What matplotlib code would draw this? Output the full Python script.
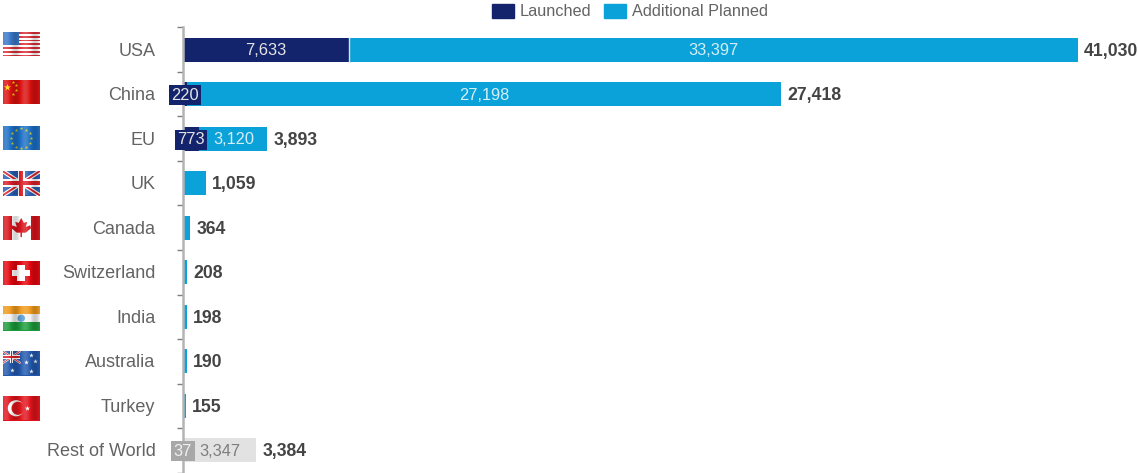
import numpy as np
import matplotlib
matplotlib.use("Agg")
import matplotlib.pyplot as plt
from matplotlib.patches import Rectangle, Polygon, Ellipse

plt.rcParams['font.family'] = ['Liberation Sans', 'DejaVu Sans']

countries = ["USA", "China", "EU", "UK", "Canada", "Switzerland", "India", "Australia", "Turkey", "Rest of World"]
launched = [7633, 220, 773, 0, 0, 0, 0, 0, 0, 37]
additional = [33397, 27198, 3120, 1059, 364, 208, 198, 190, 155, 3347]

NAVY, BLUE = "#14246c", "#0aa2d8"
GREY_D, GREY_L = "#a8a8a8", "#e2e2e2"
TXT, TXT_B = "#636363", "#444444"
W, H = 1138, 473

fig = plt.figure(figsize=(W / 100, H / 100), dpi=100, facecolor="white")
x0, top, bot = 182.5, 27.5, 472.5
ax = fig.add_axes([x0 / W, 1 - bot / H, 1 - x0 / W, (bot - top) / H])
px_per_unit = 895.5 / 41030
ax.set_xlim(0, (W - x0) / px_per_unit)
y = np.arange(len(countries))
ax.set_ylim(len(countries) - 0.5, -0.5)

is_row = [c == "Rest of World" for c in countries]
col_l = [GREY_D if r else NAVY for r in is_row]
col_a = [GREY_L if r else BLUE for r in is_row]
h = 0.54
ax.barh(y, launched, height=h, color=col_l, zorder=2)
ax.barh(y, additional, left=launched, height=h, color=col_a, zorder=2)
ax.plot([launched[0], launched[0]], [-h / 2, h / 2], color="#d8e6f0", lw=1, zorder=3)

for i, (l, a) in enumerate(zip(launched, additional)):
    total = l + a
    ax.annotate(f"{total:,}", (total, i), xytext=(4.4, -1.2), textcoords="offset points",
                va="center", ha="left", fontsize=12.7, fontweight="bold", color=TXT_B,
                annotation_clip=False, zorder=5)
    if l > 0:
        big = l > 2000
        bg = col_l[i]
        kw = {} if big else {"bbox": dict(boxstyle="square,pad=0.15", fc=bg, ec=bg, lw=0)}
        ax.annotate(f"{l:,}", (l / 2, i), xytext=(0, -0.8), textcoords="offset points",
                    ha="center", va="center", fontsize=11.8,
                    color="#e4e4e4" if not is_row[i] else "#f0f0f0",
                    annotation_clip=False, zorder=6, **kw)
        ax.annotate(f"{a:,}", (l + a / 2, i), xytext=(0, -0.8), textcoords="offset points",
                    ha="center", va="center", fontsize=11.8,
                    color="#7d7d7d" if is_row[i] else "#d5eef8",
                    annotation_clip=False, zorder=5)

for s in ["top", "right", "bottom"]:
    ax.spines[s].set_visible(False)
ax.spines["left"].set_color("#b4b4b4")
ax.spines["left"].set_linewidth(1.8)
ax.spines["left"].set_zorder(4)
ax.set_xticks([])
ax.set_yticks(np.append(y - 0.5, y[-1] + 0.5))
ax.set_yticklabels([])
ax.tick_params(axis="y", length=4.5, width=1, color="#7f7f7f", pad=0)
ax.patch.set_alpha(0)

for i, c in enumerate(countries):
    ax.annotate(c, (0, i), xytext=(-19.5, -1.2), textcoords="offset points", ha="right",
                va="center", fontsize=13, color=TXT, annotation_clip=False)

# legend
lax_h = [Rectangle((0, 0), 1, 1, color=NAVY), Rectangle((0, 0), 1, 1, color=BLUE)]
fig.legend(lax_h, ["Launched", "Additional Planned"], loc="center", ncol=2, frameon=False,
           bbox_to_anchor=(630 / W, 1 - 11.5 / H), fontsize=11.7, labelcolor=TXT,
           handlelength=1.35, handleheight=1.0, handletextpad=0.37, columnspacing=0.8,
           borderpad=0, borderaxespad=0)


# flags (decorative raster-like icons)
def flag_ax(top_px):
    a = fig.add_axes([2.5 / W, 1 - (top_px + 24.5) / H, 37.5 / W, 24.5 / H])
    a.set_xlim(0, 1)
    a.set_ylim(0, 1)
    a.axis("off")
    return a


def shade(a):
    xx = np.linspace(0, 1, 60)
    wave = np.sin(xx * 12 + 0.8)
    img = np.zeros((1, 60, 4))
    img[..., 0:3] = (wave[None, :, None] > 0).astype(float)
    img[..., 3] = np.abs(wave)[None, :] * 0.18
    a.imshow(img, extent=(0, 1, 0, 1), aspect="auto", zorder=20, interpolation="bilinear")
    a.set_xlim(0, 1)
    a.set_ylim(0, 1)


def rect(a, x, y_, w, h_, c, z=1):
    a.add_patch(Rectangle((x, y_), w, h_, fc=c, ec="none", zorder=z))


def union(a, x, y_, w, h_, z=2):
    rect(a, x, y_, w, h_, "#2a5db0", z)
    for lw, col in [(3.0, "white"), (1.4, "#d8202a")]:
        a.plot([x, x + w], [y_, y_ + h_], color=col, lw=lw * w, zorder=z + 1, solid_capstyle="butt")
        a.plot([x, x + w], [y_ + h_, y_], color=col, lw=lw * w, zorder=z + 1, solid_capstyle="butt")
    rect(a, x, y_ + h_ * 0.34, w, h_ * 0.32, "white", z + 2)
    rect(a, x + w * 0.4, y_, w * 0.2, h_, "white", z + 2)
    rect(a, x, y_ + h_ * 0.41, w, h_ * 0.18, "#d8202a", z + 3)
    rect(a, x + w * 0.45, y_, w * 0.1, h_, "#d8202a", z + 3)


a = flag_ax(32)
rect(a, 0, 0, 1, 1, "white")
for k in range(0, 7):
    rect(a, 0, k * 2 / 13, 1, 1 / 13, "#d9313a", 2)
rect(a, 0, 6 / 13, 0.45, 7 / 13, "#3a78c8", 3)

a = flag_ax(80)
rect(a, 0, 0, 1, 1, "#d9100f")
a.scatter([0.12], [0.72], marker="*", s=28, c="#ffd800", lw=0, zorder=3)
a.scatter([0.27, 0.35, 0.35, 0.27], [0.92, 0.78, 0.58, 0.44], marker="*", s=7, c="#ffd800", lw=0, zorder=3)

a = flag_ax(126)
rect(a, 0, 0, 1, 1, "#1c6fc4")
ang = np.deg2rad(np.arange(0, 360, 30))
a.scatter(0.5 + 0.27 * np.cos(ang), 0.5 + 0.4 * np.sin(ang), marker="*", s=7, c="#c9c52a", lw=0, zorder=3)

a = flag_ax(171)
union(a, 0, 0, 1, 1)

a = flag_ax(216)
rect(a, 0, 0, 1, 1, "white")
rect(a, 0, 0, 0.25, 1, "#d8141c", 2)
rect(a, 0.75, 0, 0.25, 1, "#d8141c", 2)
a.add_patch(Polygon([[.5, .92], [.57, .72], [.66, .76], [.62, .55], [.74, .62], [.76, .5], [.62, .32],
                     [.52, .32], [.52, .14], [.48, .14], [.48, .32], [.38, .32], [.24, .5], [.26, .62],
                     [.38, .55], [.34, .76], [.43, .72]], fc="#d8141c", ec="none", zorder=3))

a = flag_ax(261)
rect(a, 0, 0, 1, 1, "#e2060f")
rect(a, 0.39, 0.2, 0.22, 0.62, "white", 2)
rect(a, 0.26, 0.38, 0.48, 0.26, "white", 2)

a = flag_ax(306)
rect(a, 0, 2 / 3, 1, 1 / 3, "#ef9a1f")
rect(a, 0, 1 / 3, 1, 1 / 3, "#f4f4f4")
rect(a, 0, 0, 1, 1 / 3, "#1f9a3c")
a.add_patch(Ellipse((0.5, 0.5), 0.2, 0.3, fc="#5b9bd0", ec="none", zorder=3))

a = flag_ax(351)
rect(a, 0, 0, 1, 1, "#2358ac")
union(a, 0, 0.5, 0.48, 0.5)
a.scatter([0.25, 0.75, 0.62, 0.88, 0.75], [0.22, 0.2, 0.55, 0.6, 0.85], marker="*", s=12, c="white", lw=0, zorder=3)

a = flag_ax(396)
rect(a, 0, 0, 1, 1, "#e0141c")
a.add_patch(Ellipse((0.36, 0.5), 0.44, 0.66, fc="white", ec="none", zorder=3))
a.add_patch(Ellipse((0.42, 0.5), 0.36, 0.54, fc="#e0141c", ec="none", zorder=4))
a.scatter([0.66], [0.5], marker="*", s=16, c="white", lw=0, zorder=5)

for a in fig.axes[1:]:
    shade(a)

fig.savefig("out.png", dpi=100)
